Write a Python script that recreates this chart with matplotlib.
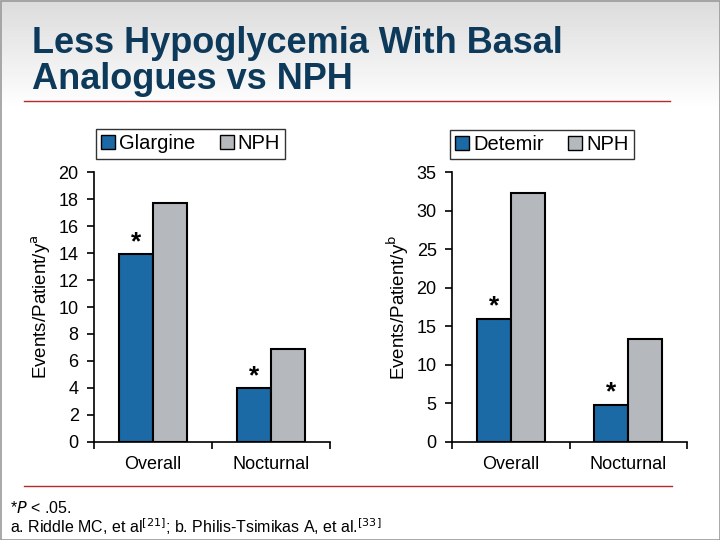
import numpy as np
import matplotlib
matplotlib.use("Agg")
from matplotlib import pyplot as plt
from matplotlib.patches import Patch

plt.rcParams['font.family'] = ['Liberation Sans', 'DejaVu Sans']

# Data
categories = ['Overall', 'Nocturnal']
glargine = [13.9, 4.0]
nph_left = [17.7, 6.9]
detemir = [16.0, 4.8]
nph_right = [32.3, 13.4]
left_ticks = [0, 2, 4, 6, 8, 10, 12, 14, 16, 18, 20]
right_ticks = [0, 5, 10, 15, 20, 25, 30, 35]

BLUE = '#1b6aa5'
GRAY = '#b5b9bd'
NAVY = '#0d3a5a'
RED = '#b52a2a'

W, H = 720, 540
fig = plt.figure(figsize=(7.2, 5.4), dpi=100)

# gray gradient header background
bg = fig.add_axes([0, 0, 1, 1], zorder=-10)
grad = np.ones((H, 1))
grad[:110, 0] = np.linspace(0.86, 1.0, 110)
bg.imshow(grad, cmap='gray', vmin=0, vmax=1, aspect='auto', extent=[0, W, H, 0])
bg.set_xlim(0, W)
bg.set_ylim(H, 0)
bg.axis('off')
bg.plot([24, 670], [101, 101], color=RED, lw=1)
bg.plot([24, 672], [486, 486], color=RED, lw=1)
bg.add_patch(plt.Rectangle((0.5, 0.5), W - 1, H - 1, fill=False, ec='#9a9a9a', lw=1.2))

fig.text(32 / W, 1 - 26 / H, 'Less Hypoglycemia With Basal\nAnalogues vs NPH',
         fontsize=26, fontweight='bold', color=NAVY, va='top', ha='left',
         linespacing=1.05)

fig.text(10 / W, 1 - 513 / H, r'*$\it{P}$ < .05.', fontsize=11.5, va='baseline')
fig.text(10 / W, 1 - 533 / H, 'a. Riddle MC, et al$^{[21]}$; b. Philis-Tsimikas A, et al.$^{[33]}$',
         fontsize=11.5, va='baseline')


def px_axes(x0, x1, y_top, y_bot):
    return fig.add_axes([x0 / W, 1 - y_bot / H, (x1 - x0) / W, (y_bot - y_top) / H])


def draw_panel(ax, a_vals, b_vals, ymax, yticks, ylabel, names, leg_box):
    x = np.arange(len(categories))
    bw = 0.288
    ax.bar(x - bw, a_vals, bw, align='edge', color=BLUE, edgecolor='black', lw=1.5)
    ax.bar(x, b_vals, bw, align='edge', color=GRAY, edgecolor='black', lw=1.5)
    for xi, v in zip(x, a_vals):
        ax.annotate('*', (xi - bw / 2, v), xytext=(0, 0), textcoords='offset points',
                    ha='center', va='bottom', fontsize=19, fontweight='bold')
    ax.set_xlim(-0.5, 1.5)
    ax.set_ylim(0, ymax)
    ax.set_yticks(yticks)
    ax.set_xticks(x)
    ax.set_xticklabels(categories)
    ax.set_xticks([-0.5, 0.5, 1.5], minor=True)
    ax.tick_params(axis='x', which='major', length=0, labelsize=13, pad=10)
    ax.tick_params(axis='x', which='minor', length=5, width=1.2)
    ax.tick_params(axis='y', length=5, width=1.2, labelsize=13, pad=6)
    for s in ['top', 'right']:
        ax.spines[s].set_visible(False)
    for s in ['left', 'bottom']:
        ax.spines[s].set_linewidth(1.2)
    ax.set_facecolor('none')
    ax.set_ylabel(ylabel, fontsize=13.5, labelpad=4)
    handles = [Patch(facecolor=BLUE, edgecolor='black', lw=1),
               Patch(facecolor=GRAY, edgecolor='black', lw=1)]
    x0, x1, y0, y1 = leg_box
    leg = fig.legend(handles, names, loc='center',
                     bbox_to_anchor=((x0 + x1) / 2 / W, 1 - (y0 + y1) / 2 / H),
                     ncol=2, fontsize=14.5, frameon=True, fancybox=False,
                     handlelength=0.7, handleheight=0.7, handletextpad=0.2,
                     columnspacing=1.2, borderpad=0.25, borderaxespad=0)
    leg.get_frame().set_edgecolor('black')
    leg.get_frame().set_linewidth(1)


ax1 = px_axes(94, 330, 172.3, 441.7)
draw_panel(ax1, glargine, nph_left, 20, left_ticks, r'Events/Patient/y$^{\rm a}$',
           ['Glargine', 'NPH'], (96, 285, 131, 157))

ax2 = px_axes(452, 687, 172.3, 441.7)
draw_panel(ax2, detemir, nph_right, 35, right_ticks, r'Events/Patient/y$^{\rm b}$',
           ['Detemir', 'NPH'], (451, 633, 131, 158))

fig.savefig('out.png', dpi=100)
